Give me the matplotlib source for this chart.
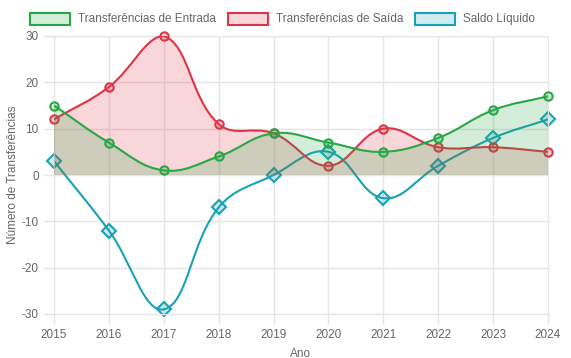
import numpy as np
import matplotlib
matplotlib.use("Agg")
import matplotlib.pyplot as plt
from matplotlib.path import Path
from matplotlib.patches import PathPatch, Rectangle

anos = [2015, 2016, 2017, 2018, 2019, 2020, 2021, 2022, 2023, 2024]
entrada = [15, 7, 1, 4, 9, 7, 5, 8, 14, 17]
saida = [12, 19, 30, 11, 9, 2, 10, 6, 6, 5]
saldo = [3, -12, -29, -7, 0, 5, -5, 2, 8, 12]
rotulos = ["Transferências de Entrada", "Transferências de Saída", "Saldo Líquido"]

verde = "#28a745"
vermelho = "#dc3545"
azul = "#17a2b8"

plt.rcParams['font.family'] = ['Liberation Sans', 'DejaVu Sans']
plt.rcParams['axes.unicode_minus'] = False

fig = plt.figure(figsize=(5.71, 3.58), dpi=100)
ax = fig.add_axes([54 / 571, 1 - 314 / 358, 494 / 571, 278 / 358])
ax.set_xlim(2015, 2024)
ax.set_ylim(-30, 30)


def spline_path(xs, ys, tension=0.4):
    # curva tipo Chart.js, calculada em pixels
    pts = ax.transData.transform(np.column_stack([xs, ys]))
    bb = ax.bbox
    n = len(pts)
    verts = [pts[0]]
    codes = [Path.MOVETO]
    cps = []
    for i in range(n):
        p0 = pts[max(i - 1, 0)]
        p1 = pts[i]
        p2 = pts[min(i + 1, n - 1)]
        d01 = np.hypot(*(p1 - p0))
        d12 = np.hypot(*(p2 - p1))
        tot = d01 + d12
        s01 = d01 / tot if tot else 0
        s12 = d12 / tot if tot else 0
        fa = tension * s01
        fb = tension * s12
        cp_prev = p1 - fa * (p2 - p0)
        cp_next = p1 + fb * (p2 - p0)
        for c in (cp_prev, cp_next):
            c[0] = min(max(c[0], bb.x0), bb.x1)
            c[1] = min(max(c[1], bb.y0), bb.y1)
        cps.append((cp_prev, cp_next))
    for i in range(1, n):
        verts += [cps[i - 1][1], cps[i][0], pts[i]]
        codes += [Path.CURVE4] * 3
    inv = ax.transData.inverted()
    return inv.transform(np.array(verts)), codes


def desenha(ys, cor, marcador, ms, fill, z):
    verts, codes = spline_path(anos, ys)
    if fill:
        fv = list(verts) + [(anos[-1], 0), (anos[0], 0), verts[0]]
        fc = list(codes) + [Path.LINETO, Path.LINETO, Path.CLOSEPOLY]
        ax.add_patch(PathPatch(Path(fv, fc), facecolor=matplotlib.colors.to_rgba(cor, 0.2),
                               edgecolor='none', zorder=z))
    ax.add_patch(PathPatch(Path(verts, codes), facecolor='none', edgecolor=cor,
                           linewidth=1.5, zorder=z + 0.1))
    ax.plot(anos, ys, linestyle='none', marker=marcador, markersize=ms,
            markerfacecolor=matplotlib.colors.to_rgba(cor, 0.2), markeredgecolor=cor,
            markeredgewidth=1.5, zorder=z + 0.2, clip_on=False)


desenha(saldo, azul, 'D', 7.5, False, 2)
desenha(saida, vermelho, 'o', 6, True, 3)
desenha(entrada, verde, 'o', 6, True, 4)

ax.set_xticks(anos)
ax.set_yticks(range(-30, 31, 10))
ax.grid(True, color='#e5e5e5', linewidth=1)
ax.set_axisbelow(True)
for s in ax.spines.values():
    s.set_color('#e5e5e5')
ax.tick_params(colors='#e5e5e5', labelcolor='#666666', labelsize=8.5, length=7, width=1)
ax.tick_params(axis='y', pad=4)
ax.set_xlabel("Ano", color='#666666', fontsize=8.5, labelpad=5)
ax.set_ylabel("Número de Transferências", color='#666666', fontsize=8.5, labelpad=2)

# legenda no topo
xs_caixa = [30, 228, 415]
for cor, x0, txt in zip([verde, vermelho, azul], xs_caixa, rotulos):
    fig.patches.append(Rectangle((x0 / 571, 1 - 25 / 358), 40 / 571, 12 / 358,
                                 transform=fig.transFigure,
                                 facecolor=matplotlib.colors.to_rgba(cor, 0.2),
                                 edgecolor=cor, linewidth=1.5))
    fig.text((x0 + 48) / 571, 1 - 19 / 358, txt, color='#666666', fontsize=8.5,
             va='center', ha='left')

fig.savefig("out.png", dpi=100)
